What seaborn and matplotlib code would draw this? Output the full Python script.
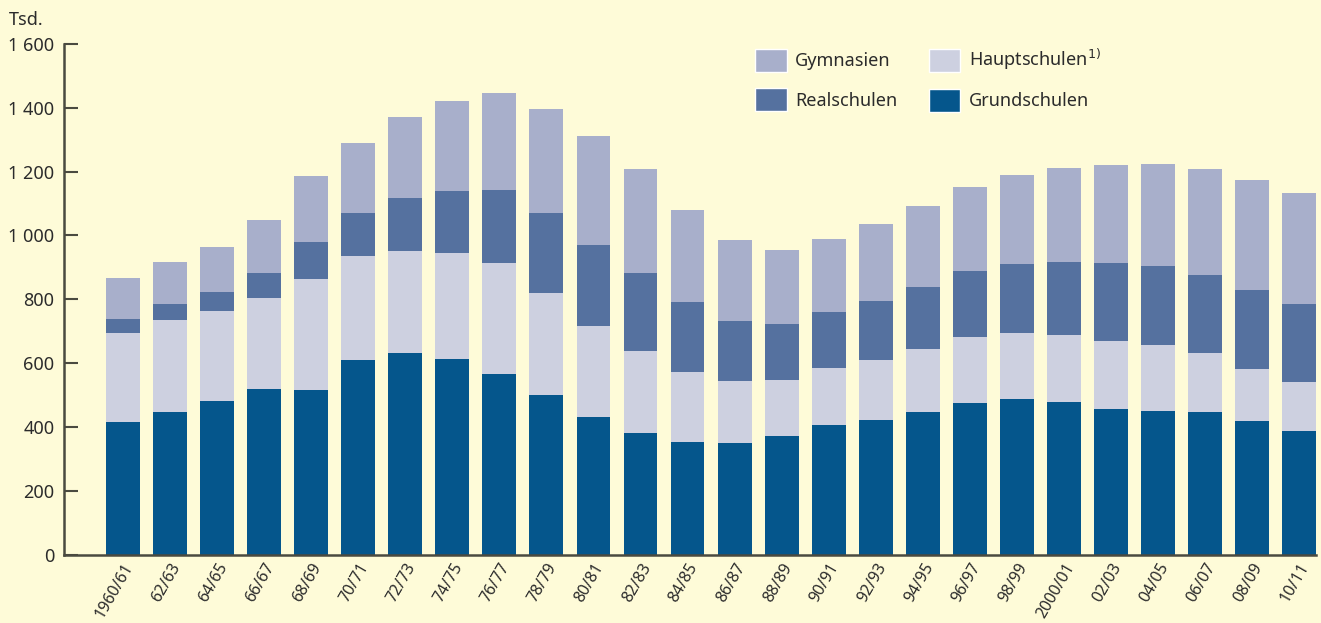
import matplotlib
matplotlib.use("Agg")
import matplotlib.pyplot as plt
import seaborn as sns
import numpy as np
import pandas as pd
from matplotlib.patches import Patch

periods = ["1960/61", "62/63", "64/65", "66/67", "68/69", "70/71", "72/73", "74/75",
           "76/77", "78/79", "80/81", "82/83", "84/85", "86/87", "88/89", "90/91",
           "92/93", "94/95", "96/97", "98/99", "2000/01", "02/03", "04/05", "06/07",
           "08/09", "10/11"]
grundschulen = [415, 447, 481, 519, 516, 610, 632, 613, 566, 500, 431, 381, 353, 349,
                371, 406, 422, 447, 475, 487, 478, 456, 450, 447, 418, 387]
hauptschulen = [279, 288, 282, 285, 347, 326, 319, 332, 348, 320, 285, 257, 219, 195,
                176, 178, 187, 197, 207, 207, 210, 213, 207, 184, 163, 154]
realschulen = [44, 50, 60, 78, 116, 134, 166, 194, 228, 250, 254, 244, 219, 188,
               175, 176, 185, 194, 207, 217, 229, 245, 247, 245, 248, 244]
gymnasien = [128, 132, 141, 166, 207, 220, 254, 282, 304, 326, 342, 326, 289, 254,
             232, 229, 242, 254, 263, 278, 294, 307, 320, 332, 345, 348]
y_ticks = [0, 200, 400, 600, 800, 1000, 1200, 1400, 1600]
y_tick_labels = ["0", "200", "400", "600", "800", "1 000", "1 200", "1 400", "1 600"]

BG = "#FEFBD8"
C_GYM = "#A8AFCB"
C_HAUPT = "#CDD0E0"
C_REAL = "#55719F"
C_GRUND = "#05568C"
TXT = "#2b2b2b"

sns.set_theme(style="white")
plt.rcParams["font.family"] = ["Noto Sans", "DejaVu Sans"]

df = pd.DataFrame({"period": periods, "g": grundschulen, "h": hauptschulen,
                   "r": realschulen, "y": gymnasien})
df["c1"] = df["g"]
df["c2"] = df["c1"] + df["h"]
df["c3"] = df["c2"] + df["r"]
df["c4"] = df["c3"] + df["y"]

fig = plt.figure(figsize=(13.21, 6.23), dpi=100, facecolor=BG)
ax = fig.add_axes([64 / 1321, 1 - 554.5 / 623, (1316 - 64) / 1321, (554.5 - 44) / 623])
ax.set_facecolor(BG)

for col, c in [("c4", C_GYM), ("c3", C_REAL), ("c2", C_HAUPT), ("c1", C_GRUND)]:
    sns.barplot(data=df, x="period", y=col, color=c, saturation=1, width=0.72,
                order=periods, ax=ax, linewidth=0, edgecolor="none", zorder=2)

ax.set_xlim(-1.255, 25.36)
ax.set_ylim(0, 1600)
ax.set_xlabel("")
ax.set_ylabel("")
ax.set_yticks(y_ticks)
ax.set_yticklabels(y_tick_labels, fontsize=13, color=TXT)
ax.tick_params(axis="y", direction="in", length=10, width=1.5, color="#4a4a40", pad=7, left=True)
ax.tick_params(axis="x", length=0, pad=4)
ax.set_xticks(range(len(periods)))
ax.set_xticklabels(periods, rotation=60, ha="right", va="top", rotation_mode="anchor",
                   fontsize=11.5, color=TXT)

for s in ["top", "right"]:
    ax.spines[s].set_visible(False)
for s in ["left", "bottom"]:
    ax.spines[s].set_color("#4a4a40")
    ax.spines[s].set_linewidth(1.8)
    ax.spines[s].set_zorder(3)

fig.text(9 / 1321, 1 - 20 / 623, "Tsd.", fontsize=13, color=TXT, ha="left", va="center")

handles = [Patch(facecolor=C_GYM, label="Gymnasien"),
           Patch(facecolor=C_REAL, label="Realschulen"),
           Patch(facecolor=C_HAUPT, label="Hauptschulen$^{1)}$"),
           Patch(facecolor=C_GRUND, label="Grundschulen")]
leg = ax.legend(handles=handles, ncol=2, loc="upper left",
                bbox_to_anchor=((748 - 64) / (1316 - 64), 1 - (40 - 44) / (554.5 - 44)),
                frameon=False, fontsize=13, handlelength=1.75, handleheight=1.6,
                handletextpad=0.45, columnspacing=1.75, labelspacing=0.9, borderaxespad=0)
for t in leg.get_texts():
    t.set_color(TXT)

fig.savefig("out.png", dpi=100, facecolor=BG)
